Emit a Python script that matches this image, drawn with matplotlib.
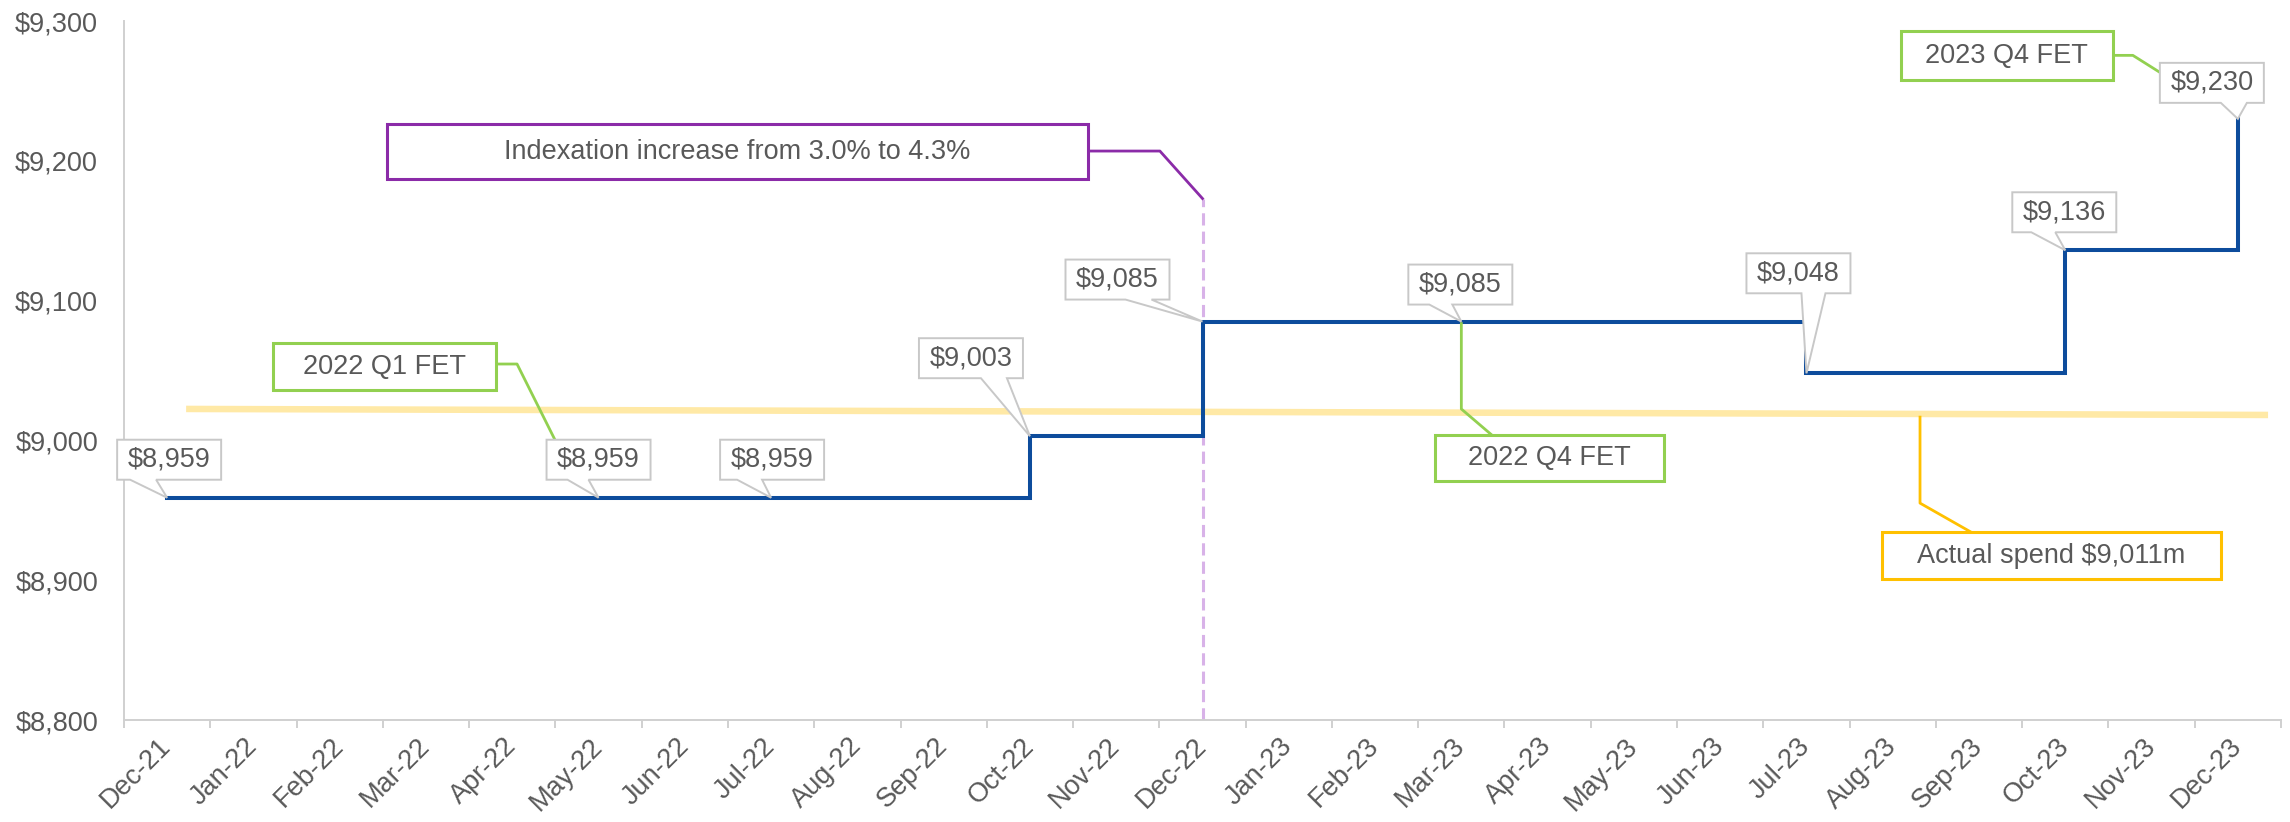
import numpy as np
import matplotlib
matplotlib.use("Agg")
import matplotlib.pyplot as plt
from matplotlib.patches import Polygon
from matplotlib.transforms import IdentityTransform
from matplotlib.ticker import FuncFormatter

plt.rcParams["font.family"] = ["Liberation Sans", "DejaVu Sans"]

# chart data
months = ["Dec-21", "Jan-22", "Feb-22", "Mar-22", "Apr-22", "May-22", "Jun-22",
          "Jul-22", "Aug-22", "Sep-22", "Oct-22", "Nov-22", "Dec-22", "Jan-23",
          "Feb-23", "Mar-23", "Apr-23", "May-23", "Jun-23", "Jul-23", "Aug-23",
          "Sep-23", "Oct-23", "Nov-23", "Dec-23"]
fet_values = [8959, 8959, 8959, 8959, 8959, 8959, 8959, 8959, 8959, 8959,
              9003, 9003, 9085, 9085, 9085, 9085, 9085, 9085, 9085,
              9048, 9048, 9048, 9136, 9136, 9230]
actual_x = [0.22, 24.35]
actual_y = [9022.5, 9018.2]
indexation_month = "Dec-22"
indexation_top = 9173
y_ticks = [8800, 8900, 9000, 9100, 9200, 9300]
label_months = ["Dec-21", "May-22", "Jul-22", "Oct-22", "Dec-22", "Mar-23",
                "Jul-23", "Oct-23", "Dec-23"]

GREY = "#595959"
BLUE = "#0D4C9C"
GREEN = "#92D050"
PURPLE = "#8B2BA8"
GOLD = "#FFC000"
FS = 19.5

W, H = 2290, 822
fig = plt.figure(figsize=(W / 100, H / 100), dpi=100)
ax = fig.add_axes([124 / W, 102 / H, 2157 / W, 699 / H])
ax.set_xlim(-0.5, len(months) - 0.5)
ax.set_ylim(8800, 9300)

x = np.arange(len(months))
ax.plot(x, fet_values, drawstyle="steps-post", color=BLUE, lw=2.9,
        solid_joinstyle="miter", zorder=3)
ax.plot(actual_x, actual_y, color="#FFE9A6", lw=4.7, solid_capstyle="butt", zorder=2)
xi = months.index(indexation_month)
ax.plot([xi, xi], [8800, indexation_top], color="#D8B2E8", lw=2.2,
        dashes=(4, 2), zorder=2)

# axes styling
ax.set_xticks(x)
ax.set_xticklabels(months, rotation=45, ha="right", va="center", rotation_mode="anchor")
ax.set_xticks(np.arange(-0.5, len(months), 1), minor=True)
ax.tick_params(axis="x", which="major", length=0, pad=16, labelsize=FS, labelcolor=GREY)
ax.tick_params(axis="x", which="minor", length=6, width=1.4, color="#D0D0D0", direction="out")
ax.set_yticks(y_ticks)
ax.yaxis.set_major_formatter(FuncFormatter(lambda v, p: f"${v:,.0f}"))
ax.tick_params(axis="y", length=0, pad=18.7, labelsize=FS, labelcolor=GREY)
for s in ["top", "right"]:
    ax.spines[s].set_visible(False)
for s in ["left", "bottom"]:
    ax.spines[s].set_color("#D0D0D0")
    ax.spines[s].set_linewidth(1.4)

ident = IdentityTransform()


def px(xd, yd):
    return ax.transData.transform((xd, yd))


def callout(i, bl, bt, t1, t2, w=104, h=40):
    # Excel style data callout, offsets in pixels (y downwards) from the point
    X, Y = px(i, fet_values[i])
    shape = [(bl, bt), (bl + w, bt), (bl + w, bt + h), (t2, bt + h), (0, 0),
             (t1, bt + h), (bl, bt + h)]
    pts = [(X + dx, Y - dy) for dx, dy in shape]
    ax.add_patch(Polygon(pts, closed=True, fc="white", ec="#C8C8C8", lw=1.4,
                         joinstyle="miter", transform=ident, clip_on=False, zorder=6))
    ax.text(X + bl + w / 2, Y - (bt + h / 2), f"${fet_values[i]:,.0f}", transform=ident,
            ha="center", va="center", fontsize=FS, color=GREY, zorder=7)


def note(anchor, text, color, box, leader):
    X, Y = anchor
    bl, bt, w, h = box
    rect = [(bl, bt), (bl + w, bt), (bl + w, bt + h), (bl, bt + h)]
    ax.add_patch(Polygon([(X + dx, Y - dy) for dx, dy in rect], closed=True, fc="white",
                         ec=color, lw=2.2, joinstyle="miter", transform=ident,
                         clip_on=False, zorder=8))
    ax.plot([X + dx for dx, dy in leader], [Y - dy for dx, dy in leader], color=color,
            lw=2.0, transform=ident, clip_on=False, zorder=5)
    ax.text(X + bl + w / 2, Y - (bt + h / 2), text, transform=ident, ha="center",
            va="center", fontsize=FS, color=GREY, zorder=9)


callout_layout = [(-50, -58, -37, -11), (-52, -58, -31, -10), (-51, -58, -34, -9),
                  (-111, -98, -49, -23), (-137, -62, -77, -51), (-53, -57, -32, -9),
                  (-60, -120, -5, 19), (-53, -58, -34, -10), (-78, -56, -17, 9)]
for m, lay in zip(label_months, callout_layout):
    callout(months.index(m), *lay)

note(px(months.index("May-22"), fet_values[months.index("May-22")]), "2022 Q1 FET", GREEN,
     (-325.5, -154.7, 223, 47), [(-102.5, -133.7), (-81.5, -133.7), (-40.5, -51.7)])
note(px(months.index("Mar-23"), fet_values[months.index("Mar-23")]), "2022 Q4 FET", GREEN,
     (-26.6, 113.4, 229, 46), [(30.4, 113.4), (0, 87.4), (0, 2)])
note(px(24, fet_values[24]), "2023 Q4 FET", GREEN,
     (-337, -87.5, 212, 49), [(-125, -63.5), (-105, -63.5), (-78, -46.5)])
note(px(21, np.interp(21, actual_x, actual_y)), "Actual spend $9,011m", GOLD,
     (-97, 118, 339, 47), [(-8, 118), (-59, 89), (-59, 3)])
note(px(xi, indexation_top), "Indexation increase from 3.0% to 4.3%", PURPLE,
     (-815.6, -74.5, 701, 55), [(-114.6, -47.5), (-42.6, -47.5), (0, 0)])

fig.savefig("out.png", dpi=100)
